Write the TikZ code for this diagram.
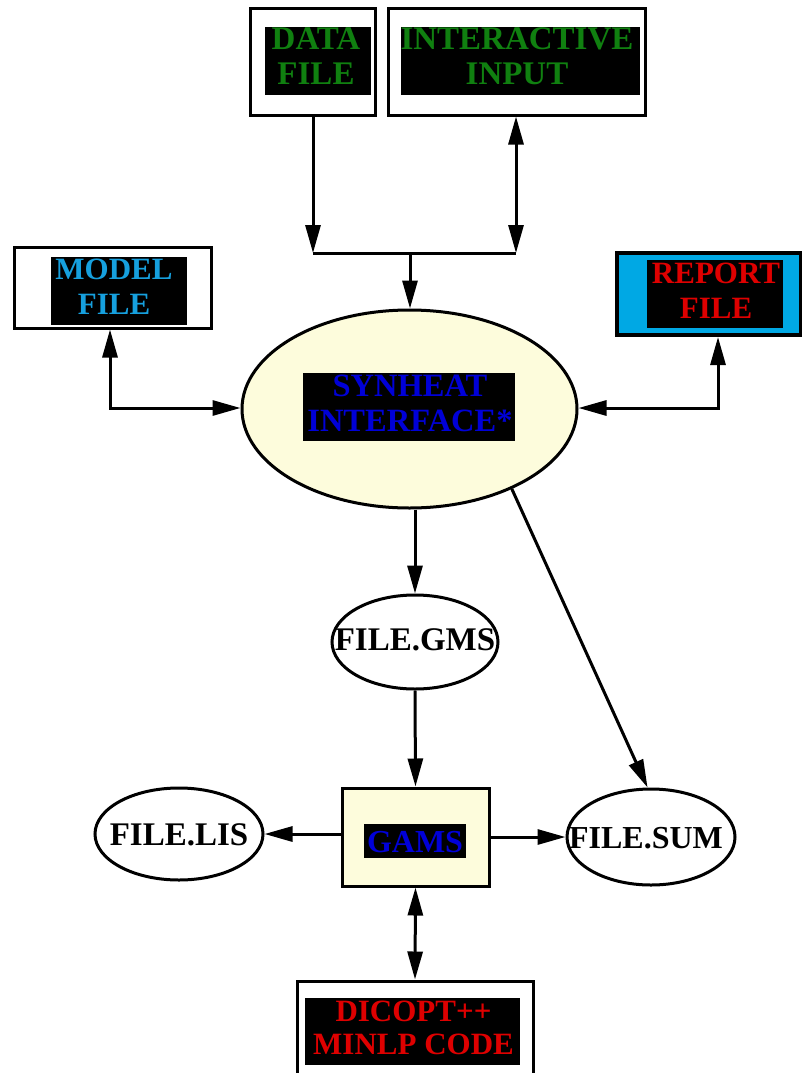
\documentclass[tikz,border=0pt]{standalone}
\usepackage{fontspec}
\setmainfont{Liberation Serif}
\usetikzlibrary{shapes.geometric,arrows.meta}

\definecolor{txtgreen}{RGB}{16,128,16}
\definecolor{txtblue}{RGB}{0,0,215}
\definecolor{txtred}{RGB}{222,0,0}
\definecolor{txtcyan}{RGB}{22,160,222}
\definecolor{reportfill}{RGB}{0,168,228}
\definecolor{paleyellow}{RGB}{253,252,220}

\tikzset{
  frame/.style={draw=black, line width=3pt, fill=white, inner sep=0pt},
  blackpad/.style={fill=black, inner sep=0pt},
  caption/.style={inner sep=0pt, align=center, font=\bfseries\fontsize{#1}{35}\selectfont},
  caption/.default=33,
  oval/.style={ellipse, draw=black, line width=3pt, fill=white, inner sep=0pt},
  ovaltext/.style={inner sep=0pt, font=\bfseries\fontsize{33}{35}\selectfont},
  link/.style={line width=3pt},
  tip/.style={-{Triangle[length=28pt,width=15pt]}},
  twotip/.style={{Triangle[length=28pt,width=15pt]}-{Triangle[length=28pt,width=15pt]}},
}

\begin{document}
\begin{tikzpicture}[x=1pt,y=-1pt]
\clip (0,0) rectangle (802,1073);
\useasboundingbox (0,0) rectangle (802,1073);

% input sources at the top
\node[frame, minimum width=125pt, minimum height=106pt] (data) at (312.5,62) {};
\node[blackpad, minimum width=106pt, minimum height=68pt] (datapad) at (318,61) {};
\node[caption, text=txtgreen] (datatxt) at (316,56) {DATA\\FILE};

\node[frame, minimum width=257pt, minimum height=106pt] (inter) at (516.5,62) {};
\node[blackpad, minimum width=239pt, minimum height=68pt] (interpad) at (520.5,61) {};
\node[caption, text=txtgreen] (intertxt) at (517,56) {INTERACTIVE\\INPUT};

% model and report files
\node[frame, minimum width=197pt, minimum height=81pt] (model) at (112.5,287.5) {};
\node[blackpad, minimum width=136pt, minimum height=68pt] (modelpad) at (119,291) {};
\node[caption=31, text=txtcyan] (modeltxt) at (114,287) {MODEL\\FILE};

\node[frame, fill=reportfill, line width=4pt, minimum width=184pt, minimum height=82pt] (report) at (709,294) {};
\node[blackpad, minimum width=136pt, minimum height=68pt] (reportpad) at (715,294) {};
\node[caption=31, text=txtred] (reporttxt) at (716,291) {REPORT\\FILE};

% central interface
\node[oval, fill=paleyellow, minimum width=335pt, minimum height=198pt] (syn) at (409.5,409) {};
\node[blackpad, minimum width=212pt, minimum height=68pt] (synpad) at (409,407) {};
\node[caption=32.5, text=txtblue] (syntxt) at (410,403) {SYNHEAT\\INTERFACE*};

% generated files and solver
\node[oval, minimum width=166pt, minimum height=94pt] (gms) at (415,642) {};
\node[ovaltext] (gmstxt) at (415,640) {FILE.GMS};

\node[frame, fill=paleyellow, minimum width=147pt, minimum height=98pt] (gams) at (415.5,837) {};
\node[blackpad, minimum width=102pt, minimum height=34pt] (gamspad) at (415,841) {};
\node[caption=32, text=txtblue] (gamstxt) at (415,842) {GAMS};

\node[oval, minimum width=168pt, minimum height=92pt] (lis) at (179,834) {};
\node[ovaltext] (listxt) at (179,835) {FILE.LIS};
\node[oval, minimum width=168pt, minimum height=96pt] (sum) at (651,837) {};
\node[ovaltext, font=\bfseries\fontsize{32}{35}\selectfont] (sumtxt) at (646,838) {FILE.SUM};

\node[frame, minimum width=236pt, minimum height=118pt] (dicopt) at (415,1040) {};
\node[blackpad, minimum width=215pt, minimum height=67pt] (dicoptpad) at (412.5,1031.5) {};
\node[caption, text=txtred, font=\bfseries\fontsize{31}{33}\selectfont] (dicopttxt) at (413.5,1028) {DICOPT++\\MINLP CODE};

% junction that merges the two inputs
\coordinate (jl) at (313,253);
\coordinate (jr) at (516,253);
\coordinate (jm) at (410,253);
\draw[link, tip] (data.south -| jl) -- (jl);
\draw[link, twotip] (inter.south -| jr) -- (jr);
\draw[link] (jl) -- (jr);
\draw[link, tip] (jm) -- (syn.north -| jm);

% model file and report file links
\coordinate (mc) at (110,408);
\coordinate (rc) at (718,408);
\draw[link, twotip] (model.south -| mc) -- (mc) -- (syn.west |- mc);
\draw[link, twotip] (report.south -| rc) -- (rc) -- (syn.east |- rc);

% flow down to the solver
\draw[link, tip] (syn.south -| gms.north) -- (gms.north);
\draw[link, tip] (gms.south) -- (gams.north);
\draw[link, tip] (syn.-38) -- (sum.94);
\draw[link, tip] (gams.west |- lis.east) -- (lis.east);
\draw[link, tip] (gams.east |- sum.west) -- (sum.west);
\draw[link, twotip] (gams.south) -- (dicopt.north);
\end{tikzpicture}
\end{document}
